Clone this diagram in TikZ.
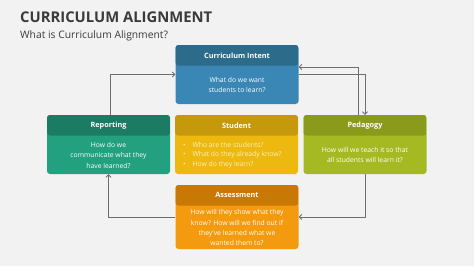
\documentclass[tikz,border=0pt]{standalone}
\usepackage{fontspec}
\setmainfont{Open Sans}
\usetikzlibrary{arrows.meta}
\definecolor{bg}{HTML}{F2F2F2}
\definecolor{titlec}{HTML}{3A3A3A}
\definecolor{intH}{HTML}{2D6B8B}
\definecolor{intB}{HTML}{3A87B5}
\definecolor{repH}{HTML}{1C7C63}
\definecolor{repB}{HTML}{22A07F}
\definecolor{stuH}{HTML}{C6980B}
\definecolor{stuB}{HTML}{EDB80F}
\definecolor{pedH}{HTML}{8A9A1A}
\definecolor{pedB}{HTML}{A5BA22}
\definecolor{assH}{HTML}{C87805}
\definecolor{assB}{HTML}{F39A0F}
\definecolor{linec}{HTML}{6E6E6E}
\definecolor{bullc}{HTML}{FDF0BE}
\tikzset{
  card/.style 2 args={rounded corners=3pt, minimum width=123pt, minimum height=59pt,
    inner sep=0pt, fill=#2,
    path picture={\fill[#1] (path picture bounding box.north west) rectangle
      ([yshift=-20.5pt]path picture bounding box.north east);}},
  htext/.style={font=\fontsize{7.3}{8}\selectfont\bfseries, text=white, inner sep=0pt},
  btext/.style={font=\fontsize{6.8}{10.3}\selectfont, text=white, align=center, inner sep=0pt},
  conn/.style={draw=linec, line width=0.8pt, -{Straight Barb[length=2.5pt,width=5pt]}},
}
\begin{document}
\begin{tikzpicture}[x=1pt,y=-1pt]
\fill[bg] (0,0) rectangle (474,266);
\useasboundingbox (0,0) rectangle (474,266);

\node[anchor=base west, inner sep=0pt, text=titlec, font=\fontsize{14.8}{16}\selectfont\bfseries] (title) at (20,22.5) {CURRICULUM ALIGNMENT};
\node[anchor=base west, inner sep=0pt, text=titlec, font=\fontsize{10.3}{11}\selectfont] (sub) at (20,38) {What is Curriculum Alignment?};

\node[card={intH}{intB}] (intent) at (237,74.5) {};
\node[card={repH}{repB}] (report) at (108.5,144.5) {};
\node[card={stuH}{stuB}] (student) at (236.5,144.5) {};
\node[card={pedH}{pedB}] (ped) at (365,144.5) {};
\node[card={assH}{assB}, minimum height=64pt] (assess) at (237,217) {};

\node[htext] (intent-t) at ([yshift=-10.5pt]intent.north) {Curriculum Intent};
\node[btext] (intent-b) at ([yshift=19pt]intent.south) {What do we want\\students to learn?};

\node[htext] (report-t) at ([yshift=-10.5pt]report.north) {Reporting};
\node[btext] (report-b) at ([yshift=19pt]report.south) {How do we\\communicate what they\\have learned?};

\node[htext] (student-t) at ([yshift=-10.5pt]student.north) {Student};
\node[btext, align=left, text=bullc, anchor=west, font=\fontsize{6.8}{9.7}\selectfont] (student-b) at ([xshift=8pt,yshift=19pt]student.south west)
  {•\hspace{7pt}Who are the students?\\•\hspace{7pt}What do they already know?\\•\hspace{7pt}How do they learn?};

\node[htext] (ped-t) at ([yshift=-10.5pt]ped.north) {Pedagogy};
\node[btext] (ped-b) at ([yshift=19pt]ped.south) {How will we teach it so that\\all students will learn it?};

\node[htext] (assess-t) at ([yshift=-10.5pt]assess.north) {Assessment};
\node[btext] (assess-b) at ([yshift=21.5pt]assess.south) {How will they show what they\\know? How will we find out if\\they've learned what we\\wanted them to?};

\draw[conn] ([xshift=2pt]report.north) |- (intent.west);
\draw[conn] (intent.east) -| (ped.north);
\draw[conn] ([xshift=-7pt]ped.north) |- ([yshift=7.5pt]intent.east);
\draw[conn] (ped.south) |- (assess.east);
\draw[conn] (assess.west) -| (report.south);
\end{tikzpicture}
\end{document}
